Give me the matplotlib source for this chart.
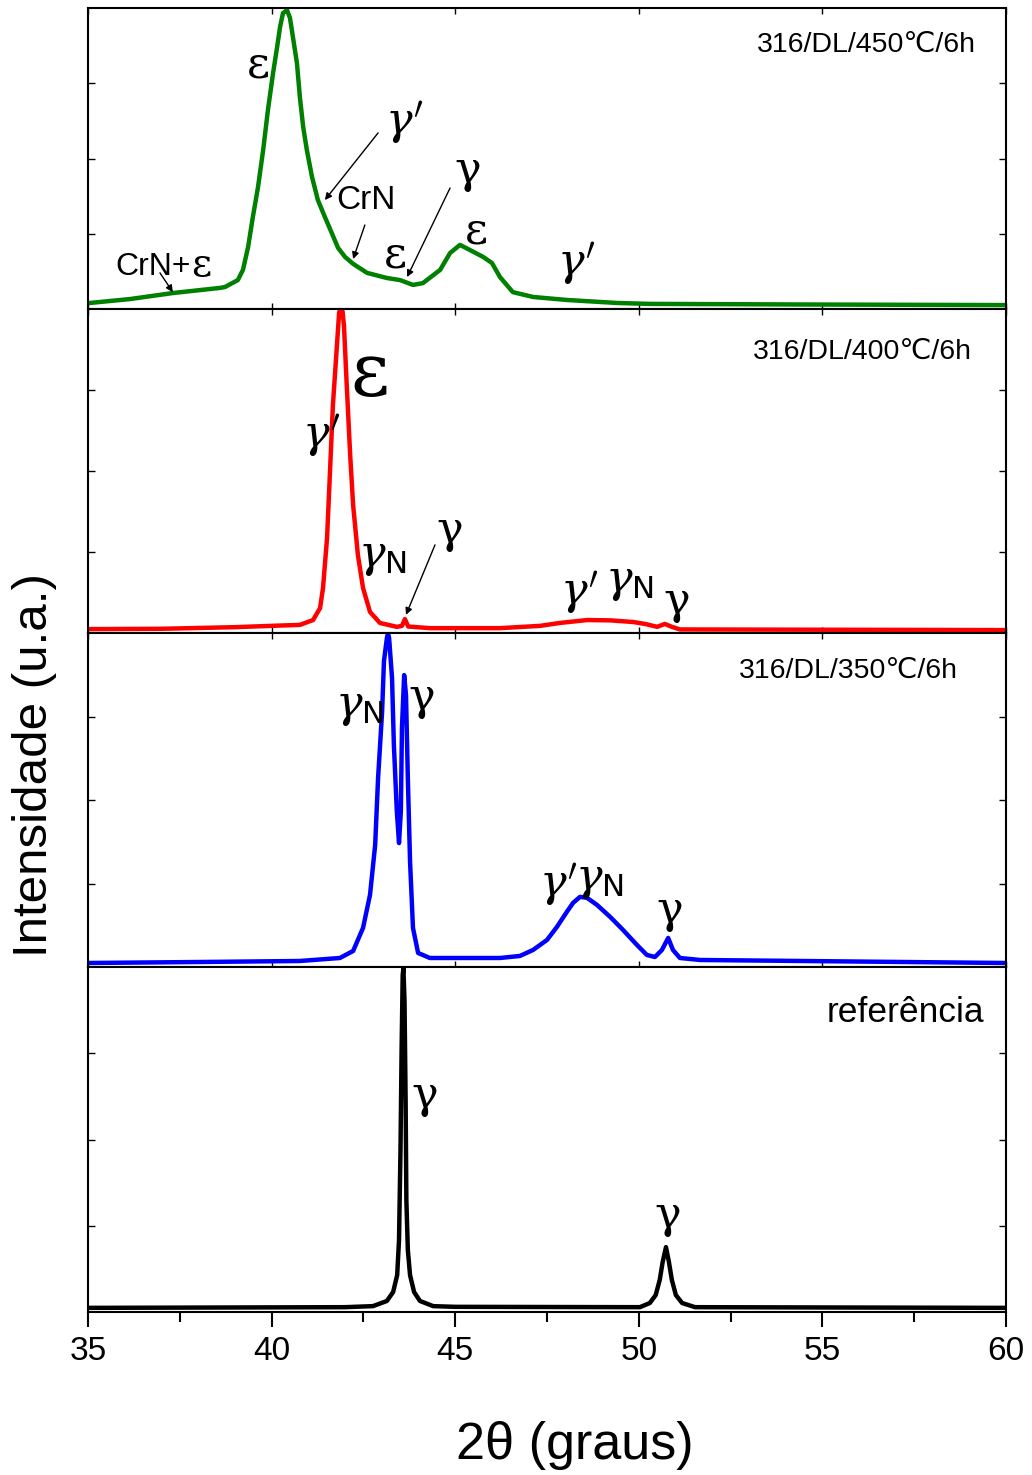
import matplotlib
matplotlib.use("Agg")
import matplotlib.pyplot as plt
from matplotlib.ticker import MultipleLocator, FixedLocator, NullFormatter

plt.rcParams["mathtext.fontset"] = "dejavuserif"

# ---- diffractogram traces (2theta in degrees, intensity in a.u. per panel, 0-100) ----
theta_450 = [35.05, 36.14, 37.31, 38.59, 38.73, 39.08, 39.22, 39.36, 39.49, 39.63,
             39.77, 39.90, 40.04, 40.15, 40.23, 40.31, 40.42, 40.50, 40.58, 40.69,
             40.77, 40.86, 40.96, 41.10, 41.26, 41.45, 41.64, 41.81, 42.00, 42.22,
             42.60, 43.14, 43.50, 43.85, 44.12, 44.59, 44.86, 45.13, 45.40, 45.76,
             46.00, 46.22, 46.57, 47.12, 48.04, 49.41, 50.30, 54.39, 60.0]
int_450 = [2.0, 3.3, 5.3, 7.0, 7.3, 9.6, 13.0, 20.6, 30.6, 40.5,
           52.8, 66.1, 78.4, 87.0, 93.7, 98.3, 99.3, 96.7, 90.4, 81.7,
           70.4, 60.5, 52.8, 43.9, 36.2, 30.6, 25.2, 20.3, 17.3, 15.0,
           12.0, 10.3, 9.6, 8.0, 8.6, 13.0, 18.6, 21.3, 19.6, 17.3,
           15.3, 10.6, 5.6, 4.0, 3.0, 2.0, 1.7, 1.5, 1.3]

theta_400 = [35.0, 37.0, 39.0, 40.23, 40.77, 41.13, 41.32, 41.40, 41.51, 41.59,
             41.67, 41.78, 41.84, 41.92, 41.97, 42.05, 42.14, 42.22, 42.35, 42.49,
             42.68, 42.95, 43.41, 43.55, 43.63, 43.72, 44.31, 45.68, 46.22, 47.31,
             47.85, 48.59, 49.22, 49.84, 50.17, 50.50, 50.71, 50.90, 51.12, 60.0]
int_400 = [1.2, 1.3, 1.8, 2.3, 2.5, 4.0, 7.7, 13.9, 29.3, 49.7,
           70.4, 88.9, 99.0, 100.5, 95.0, 75.6, 54.9, 39.5, 24.1, 13.9,
           6.5, 3.1, 1.9, 2.2, 4.3, 2.0, 1.5, 1.5, 1.5, 2.2,
           3.1, 4.0, 3.9, 3.4, 2.8, 1.9, 2.8, 1.9, 1.1, 0.9]

theta_350 = [35.0, 38.05, 40.77, 41.86, 42.22, 42.49, 42.68, 42.82, 42.90, 43.01,
             43.06, 43.14, 43.17, 43.20, 43.28, 43.33, 43.41, 43.47, 43.52, 43.55,
             43.61, 43.66, 43.71, 43.77, 43.85, 43.99, 44.31, 46.22, 46.76, 47.12,
             47.50, 47.77, 48.04, 48.21, 48.40, 48.59, 48.86, 49.22, 49.57, 49.95,
             50.22, 50.44, 50.63, 50.80, 50.93, 51.12, 51.67, 60.0]
int_350 = [1.2, 1.5, 1.8, 2.7, 4.8, 11.7, 21.6, 36.5, 56.6, 76.6,
           91.6, 98.5, 100.0, 98.5, 86.5, 66.5, 46.7, 37.1, 46.7, 71.6,
           87.4, 81.4, 56.6, 31.7, 11.7, 4.2, 2.7, 2.7, 3.3, 5.1,
           8.1, 12.0, 16.5, 19.2, 21.0, 20.7, 18.6, 15.0, 11.1, 6.6,
           3.6, 3.0, 5.1, 8.7, 5.1, 2.7, 2.1, 1.2]

theta_ref = [35.0, 42.0, 42.76, 43.14, 43.31, 43.42, 43.47, 43.51, 43.54, 43.57,
             43.59, 43.62, 43.65, 43.67, 43.71, 43.77, 43.88, 44.04, 44.40, 45.0,
             50.03, 50.30, 50.46, 50.57, 50.65, 50.74, 50.82, 50.90, 51.01, 51.18,
             51.53, 60.0]
int_ref = [1.2, 1.4, 1.7, 3.2, 5.8, 10.7, 20.9, 47.0, 76.0, 97.7,
           99.7, 90.0, 61.0, 32.5, 18.0, 10.7, 5.8, 3.2, 1.7, 1.5,
           1.4, 2.6, 4.9, 9.3, 14.5, 18.8, 14.5, 9.3, 4.9, 2.6,
           1.4, 1.2]

sample_labels = ["316/DL/450\u2103/6h", "316/DL/400\u2103/6h",
                 "316/DL/350\u2103/6h", "refer\u00eancia"]
x_ticks = [35, 40, 45, 50, 55, 60]

SANS = ["Liberation Sans", "DejaVu Sans"]
SERIF = ["DejaVu Serif", "Liberation Serif"]

GAMMA_PRIME = r"$\gamma^{\prime}$"
GAMMA_N = r"$\gamma_{\mathsf{N}}$"

fig = plt.figure(figsize=(10.32, 14.75), dpi=100)
left, width = 88 / 1032, 918 / 1032
# panel rectangles, top to bottom
rects = [
    (left, 1 - 309 / 1475, width, 301 / 1475),
    (left, 1 - 633 / 1475, width, 324 / 1475),
    (left, 1 - 967 / 1475, width, 334 / 1475),
    (left, 1 - 1312 / 1475, width, 345 / 1475),
]
series = [(theta_450, int_450, "#008000"),
          (theta_400, int_400, "#ff0000"),
          (theta_350, int_350, "#0000ff"),
          (theta_ref, int_ref, "#000000")]

axes = []
for i, (rect, (tx, iy, col)) in enumerate(zip(rects, series)):
    ax = fig.add_axes(rect)
    ax.plot(tx, iy, color=col, lw=3.2, solid_joinstyle="round")
    ax.set_xlim(35, 60)
    ax.set_ylim(0, 100)
    for sp in ax.spines.values():
        sp.set_linewidth(1.5)
    ax.yaxis.set_major_locator(FixedLocator([25, 50, 75]))
    ax.yaxis.set_major_formatter(NullFormatter())
    ax.tick_params(axis="y", which="both", direction="in", length=5, width=1,
                   left=True, right=True)
    ax.xaxis.set_major_locator(FixedLocator(x_ticks))
    if i < 3:
        ax.tick_params(axis="x", which="major", direction="in", length=4, width=1,
                       top=True, bottom=True, labelbottom=False)
    else:
        ax.xaxis.set_minor_locator(MultipleLocator(2.5))
        ax.tick_params(axis="x", which="major", direction="out", length=11, width=1.5,
                       labelsize=24, pad=6)
        ax.tick_params(axis="x", which="minor", direction="out", length=7, width=1.5)
        for lab in ax.get_xticklabels():
            lab.set_fontfamily(SANS)
    axes.append(ax)

ax450, ax400, ax350, axref = axes


def greek(ax, x, y, s, size=32):
    ax.text(x, y, s, ha="center", va="center", fontsize=size, family=SERIF)


def arrow(ax, x0, y0, x1, y1):
    ax.annotate("", xy=(x1, y1), xytext=(x0, y0),
                arrowprops=dict(arrowstyle="-|>", lw=1.0, color="black",
                                mutation_scale=10, shrinkA=0, shrinkB=0))


# 450 C panel
greek(ax450, 39.63, 81, "\u03b5")
greek(ax450, 43.62, 62, GAMMA_PRIME)
arrow(ax450, 42.90, 58.5, 41.45, 36.2)
ax450.text(42.57, 36.2, "CrN", ha="center", va="center", fontsize=24, family=SANS)
arrow(ax450, 42.54, 27.9, 42.22, 16.6)
greek(ax450, 43.36, 18, "\u03b5")
greek(ax450, 45.35, 46, "\u03b3")
arrow(ax450, 44.86, 40.2, 43.69, 10.6)
greek(ax450, 45.59, 26, "\u03b5")
greek(ax450, 48.30, 15, GAMMA_PRIME)
ax450.text(36.76, 14, "CrN+", ha="center", va="center", fontsize=23, family=SANS)
greek(ax450, 38.08, 14.5, "\u03b5", size=28)
arrow(ax450, 36.96, 12.0, 37.31, 5.6)

# 400 C panel
greek(ax400, 42.68, 79.6, "\u03b5", size=54)
greek(ax400, 41.36, 61, GAMMA_PRIME)
greek(ax400, 43.02, 23.5, GAMMA_N)
greek(ax400, 44.86, 31.8, "\u03b3")
arrow(ax400, 44.45, 27.2, 43.66, 5.6)
greek(ax400, 48.38, 12.3, GAMMA_PRIME)
greek(ax400, 49.74, 15.8, GAMMA_N)
greek(ax400, 51.04, 9.6, "\u03b3")

# 350 C panel
greek(ax350, 42.39, 78, GAMMA_N)
greek(ax350, 44.10, 80.8, "\u03b3")
greek(ax350, 47.80, 24.6, GAMMA_PRIME)
greek(ax350, 48.92, 26.3, GAMMA_N)
greek(ax350, 50.85, 17, "\u03b3")

# reference panel
greek(axref, 44.18, 62.9, "\u03b3")
greek(axref, 50.80, 28.1, "\u03b3")

# sample names
for ax, name, (x, y, fs) in zip(axes, sample_labels,
                                [(56.19, 87.7, 20.5), (56.10, 86.7, 20.5),
                                 (55.70, 88.6, 20.5), (57.25, 86.7, 25.5)]):
    ax.text(x, y, name, ha="center", va="center", fontsize=fs, family=SANS)

fig.text(35 / 1032, 1 - 765 / 1475, "Intensidade (u.a.)", rotation=90,
         ha="center", va="center", fontsize=35.5, family=SANS)
fig.text(575 / 1032, 1 - 1445 / 1475, "2\u03b8 (graus)", ha="center", va="center",
         fontsize=37.5, family=SANS)

fig.savefig("out.png", dpi=100)
